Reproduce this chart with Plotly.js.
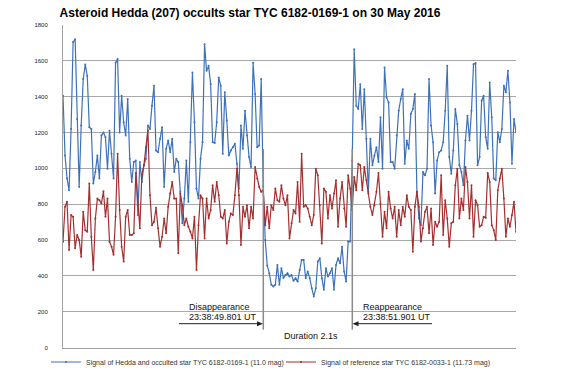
<!DOCTYPE html>
<html>
<head>
<meta charset="utf-8">
<script src="https://cdn.plot.ly/plotly-3.0.1.min.js"></script>
<style>html,body{margin:0;padding:0;background:#fff;}#chart{width:567px;height:378px;}</style>
</head>
<body>
<div id="chart"></div>
<script>
// Signal of Hedda and occulted star (blue)
const hedda = [
1405,1072,943,878,1220,1705,1720,1276,896,1239,1498,1580,1517,1230,1220,915,980,1072,943,1183,1200,1174,998,1210,1081,943,1590,1610,1200,1405,1257,1183,1387,1053,924,1035,1044,739,1035,924,1017,1053,1239,1220,1350,1461,1100,1090,1165,1230,896,1109,1155,1090,1165,980,
1053,1035,869,693,831,1044,813,1146,1535,1257,887,831,1053,1146,1693,1544,1572,1470,1146,1142,1257,1507,1461,1081,1424,1267,1072,1100,1118,1137,1026,887,1239,1109,1322,1183,1063,1007,1590,1415,1118,1128,1498,900,600,457,415,350,341,350,461,350,443,388,405,415,396,
405,372,387,368,433,489,489,387,424,387,331,285,331,480,498,387,322,443,396,415,443,322,461,498,470,563,424,368,591,591,1044,1665,1350,1331,1470,1220,1442,1165,869,1165,1017,1072,1118,1035,1285,998,1563,1396,1368,1035,1035,998,1183,1322,1387,1442,1026,1155,
1109,1304,1331,1415,869,720,683,980,961,998,1498,1239,1146,859,1044,1090,1100,1146,1322,1572,1063,970,1100,1331,1248,1017,980,905,1155,1294,1155,1322,1581,1587,1017,1063,1378,1405,1174,1109,1479,1285,943,933,1202,1146,1220,1461,1424,1544,1368,1026,1276,1202
];
// Signal of reference star (red)
const reference = [
590,785,813,544,739,730,554,628,600,507,757,655,646,915,618,433,720,831,822,804,872,730,831,590,563,517,730,1081,767,563,480,730,767,628,628,637,974,794,665,965,1017,1118,1211,850,683,702,780,665,563,618,720,637,785,859,924,831,
831,526,859,794,683,720,674,646,609,730,433,683,850,831,609,831,720,767,905,813,924,850,730,720,767,581,702,748,739,850,998,850,572,785,730,794,665,785,720,1007,943,896,869,878,683,785,665,794,767,887,822,813,905,831,794,850,609,
693,767,748,924,702,1081,785,794,776,730,683,739,998,961,794,581,887,869,720,850,776,859,933,674,831,924,776,674,961,887,767,952,878,1026,1017,878,1007,933,859,785,739,794,869,974,804,618,757,665,869,776,720,785,618,767,683,785,730,850,
785,767,535,785,869,785,591,665,757,785,637,776,572,702,674,702,961,628,822,720,563,693,702,905,998,720,831,767,1007,924,720,905,618,822,794,674,683,730,724,974,924,683,655,600,878,943,998,831,618,720,674,739,813,646
];
const seriesNames = [
  "Signal of Hedda and occulted star TYC 6182-0169-1 (11.0 mag)",
  "Signal of reference star TYC 6182-0033-1 (11.73 mag)"
];
const yTicks = [0,200,400,600,800,1000,1200,1400,1600,1800];
const disappearanceText = ["Disappearance", "23:38:49.801 UT"];
const reappearanceText = ["Reappearance", "23:38:51.901 UT"];
const durationText = "Duration 2.1s";

const N = Math.max(hedda.length, reference.length);
const sampleIndex = [];
for (let i = 1; i <= N; i++) sampleIndex.push(i);

// plot-area pixel geometry helpers (for annotation overlay)
const W = 567, H = 378;
const L = 63, R = 516, T = 25, B = 350;
const px = v => (v - L) / (R - L);
const py = v => (B - v) / (B - T);

const blue = '#3d72b8', red = '#a3302f';
const traces = [
  {x: sampleIndex, y: hedda, type: 'scatter', mode: 'lines+markers', name: seriesNames[0], legend: 'legend',
   line: {color: blue, width: 1.2}, marker: {color: blue, size: 2}},
  {x: sampleIndex, y: reference, type: 'scatter', mode: 'lines+markers', name: seriesNames[1], legend: 'legend2',
   line: {color: red, width: 1.2}, marker: {color: red, size: 2}}
];

const lineCol = '#222';
const vCol = '#8a8a8a';
const shapes = [
  {type: 'line', xref: 'paper', yref: 'paper', x0: px(263.3), x1: px(263.3), y0: py(150), y1: py(332), line: {color: vCol, width: 1.5}, layer: 'above'},
  {type: 'line', xref: 'paper', yref: 'paper', x0: px(352.3), x1: px(352.3), y0: py(150), y1: py(332), line: {color: vCol, width: 1.5}, layer: 'above'},
  {type: 'line', xref: 'paper', yref: 'paper', x0: px(179), x1: px(258), y0: py(326), y1: py(326), line: {color: lineCol, width: 1}},
  {type: 'path', xref: 'paper', yref: 'paper', path: `M${px(263)},${py(326)} L${px(257)},${py(323.5)} L${px(257)},${py(328.5)} Z`, fillcolor: lineCol, line: {color: lineCol, width: 0}},
  {type: 'line', xref: 'paper', yref: 'paper', x0: px(357), x1: px(432), y0: py(326), y1: py(326), line: {color: lineCol, width: 1}},
  {type: 'path', xref: 'paper', yref: 'paper', path: `M${px(352.5)},${py(326)} L${px(358.5)},${py(323.5)} L${px(358.5)},${py(328.5)} Z`, fillcolor: lineCol, line: {color: lineCol, width: 0}}
];

const aFont = {family: 'Liberation Sans, Arial, sans-serif', size: 9, color: '#111'};
const annotations = [
  {xref: 'paper', yref: 'paper', x: px(187), y: py(309.5), xanchor: 'left', yanchor: 'middle', text: disappearanceText[0], showarrow: false, font: aFont},
  {xref: 'paper', yref: 'paper', x: px(187), y: py(319.5), xanchor: 'left', yanchor: 'middle', text: disappearanceText[1], showarrow: false, font: aFont},
  {xref: 'paper', yref: 'paper', x: px(361), y: py(309.5), xanchor: 'left', yanchor: 'middle', text: reappearanceText[0], showarrow: false, font: aFont},
  {xref: 'paper', yref: 'paper', x: px(361), y: py(319.5), xanchor: 'left', yanchor: 'middle', text: reappearanceText[1], showarrow: false, font: aFont},
  {xref: 'paper', yref: 'paper', x: px(311), y: py(338.5), xanchor: 'center', yanchor: 'middle', text: durationText, showarrow: false, font: aFont}
];

const legendBase = {orientation: 'h', xref: 'container', yref: 'container', xanchor: 'left', y: 1 - 362/H, yanchor: 'middle',
  font: {family: 'Liberation Sans, Arial, sans-serif', size: 7, color: '#333'},
  itemwidth: 30, bgcolor: 'rgba(0,0,0,0)', borderwidth: 0};

const layout = {
  width: W, height: H,
  margin: {l: L, r: W - R, t: T, b: H - B, pad: 0},
  paper_bgcolor: '#fff', plot_bgcolor: '#fff',
  title: {text: '<b>Asteroid Hedda (207) occults star TYC 6182-0169-1 on 30 May 2016</b>',
          font: {family: 'Liberation Sans, Arial, sans-serif', size: 12, color: '#000'},
          xref: 'container', yref: 'container', x: 250/W, xanchor: 'center', y: 1 - 13/H, yanchor: 'middle'},
  xaxis: {range: [1, N], showgrid: false, zeroline: false, showticklabels: false, ticks: '',
          showline: true, linecolor: '#a0a0a0', linewidth: 1, fixedrange: true},
  yaxis: {range: [0, 1800], tickvals: yTicks, ticktext: yTicks.map(String), showgrid: true, gridcolor: '#a8a8a8', gridwidth: 1,
          zeroline: false, showline: true, linecolor: '#a0a0a0', linewidth: 1, ticks: '', ticklabelstandoff: 13,
          tickfont: {family: 'Liberation Sans, Arial, sans-serif', size: 6, color: '#222'}, fixedrange: true},
  showlegend: true,
  legend: Object.assign({}, legendBase, {x: 46/W}),
  legend2: Object.assign({}, legendBase, {x: 281/W}),
  shapes: shapes,
  annotations: annotations
};

Plotly.newPlot('chart', traces, layout, {displayModeBar: false, staticPlot: true});
</script>
</body>
</html>
